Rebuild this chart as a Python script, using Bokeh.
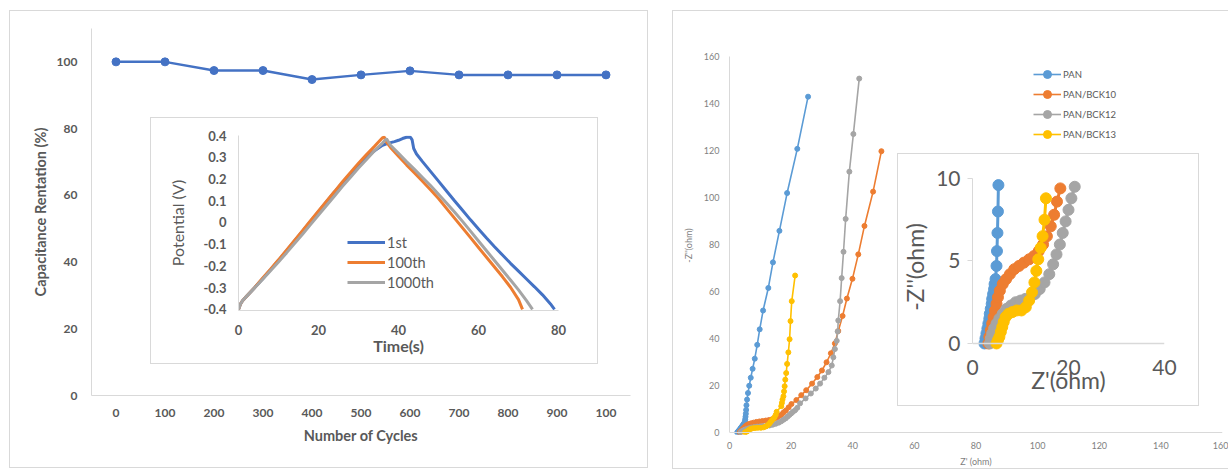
from bokeh.plotting import figure
from bokeh.layouts import row, column
from bokeh.models import Range1d, FixedTicker, Span, Legend, LegendItem
from bokeh.embed import file_html
from bokeh.resources import INLINE

FONT = "Lato"
TXT = "#595959"
TXT2 = "#7f7f7f"
AX = "#d9d9d9"

# ---------------- data: capacitance retention ----------------
cycles = [0, 100, 200, 300, 400, 500, 600, 700, 800, 900, 1000]
cycle_labels = ["0", "100", "200", "300", "400", "500", "600", "700", "800", "900", "100"]
retention = [100, 100, 97.4, 97.4, 94.7, 96.1, 97.3, 96.1, 96.1, 96.1, 96.1]
retention_ticks = [0, 20, 40, 60, 80, 100]

# ---------------- data: GCD inset ----------------
t_1st = [0, 0.5, 1, 2, 4, 6, 8, 10, 12, 14, 16, 18, 20, 22, 24, 26, 28, 30, 32, 34, 36, 37, 38, 39, 40, 41, 42, 43,
         43.4, 43.8, 44.5, 46, 48, 50, 52, 54, 56, 58, 60, 62, 64, 66, 68, 70, 72, 74, 76, 78, 79]
v_1st = [-0.4, -0.375, -0.36, -0.34, -0.3, -0.26, -0.218, -0.175, -0.13, -0.085, -0.04, 0.005, 0.05, 0.095, 0.14,
         0.183, 0.225, 0.265, 0.3, 0.33, 0.355, 0.362, 0.367, 0.372, 0.378, 0.386, 0.392, 0.392, 0.38, 0.34, 0.315,
         0.28, 0.235, 0.19, 0.145, 0.1, 0.056, 0.012, -0.03, -0.072, -0.112, -0.15, -0.188, -0.224, -0.26,
         -0.296, -0.333, -0.375, -0.4]
t_100 = [0, 0.5, 1, 2, 4, 6, 8, 10, 12, 14, 16, 18, 20, 22, 24, 26, 28, 30, 32, 34, 35, 36, 36.5, 37, 38, 40, 42,
         44, 46, 48, 50, 52, 54, 56, 58, 60, 62, 64, 66, 68, 70, 71]
v_100 = [-0.4, -0.375, -0.36, -0.34, -0.3, -0.257, -0.215, -0.172, -0.128, -0.083, -0.038, 0.008, 0.053, 0.098,
         0.142, 0.187, 0.23, 0.272, 0.312, 0.35, 0.37, 0.39, 0.392, 0.37, 0.345, 0.305, 0.265, 0.228, 0.19,
         0.15, 0.11, 0.065, 0.02, -0.025, -0.07, -0.115, -0.16, -0.205, -0.25, -0.298, -0.355, -0.4]
t_1000 = [0, 0.5, 1, 2, 4, 6, 8, 10, 12, 14, 16, 18, 20, 22, 24, 26, 28, 30, 32, 34, 36, 37, 37.5, 38, 40, 42, 44,
          46, 48, 50, 52, 54, 56, 58, 60, 62, 64, 66, 68, 70, 72, 73.5]
v_1000 = [-0.4, -0.375, -0.36, -0.34, -0.302, -0.262, -0.222, -0.182, -0.14, -0.097, -0.054, -0.01, 0.034, 0.078,
          0.122, 0.166, 0.208, 0.25, 0.29, 0.33, 0.365, 0.385, 0.37, 0.355, 0.318, 0.28, 0.244, 0.207, 0.17, 0.13,
          0.09, 0.048, 0.005, -0.04, -0.085, -0.13, -0.175, -0.22, -0.265, -0.31, -0.36, -0.4]
gcd_names = ["1st", "100th", "1000th"]
time_ticks = [0, 20, 40, 60, 80]
volt_ticks = [-0.4, -0.3, -0.2, -0.1, 0.0, 0.1, 0.2, 0.3, 0.4]
volt_labels = ["-0.4", "-0.3", "-0.2", "-0.1", "0", "0.1", "0.2", "0.3", "0.4"]

# ---------------- data: Nyquist ----------------
pan_x = [2.5, 2.7, 2.9, 3.1, 3.3, 3.5, 3.6, 3.8, 4.0, 4.1, 4.3, 4.5, 4.6, 4.8, 5.0, 5.1, 5.2, 5.3, 5.4, 5.5, 5.7,
         6.0, 6.4, 6.9, 7.5, 8.2, 9.0, 9.8, 10.9, 12.6, 14.1, 16.2, 18.7, 22.0, 25.5]
pan_y = [0.0, 0.3, 0.6, 0.9, 1.2, 1.5, 1.8, 2.1, 2.4, 2.7, 3.0, 3.3, 3.6, 3.9, 4.7, 5.6, 6.7, 8.0, 9.6, 11.6, 14.0,
         16.8, 19.9, 23.3, 27.1, 31.4, 37.3, 43.9, 51.9, 61.5, 72.4, 85.8, 101.9, 120.7, 142.9]
bck10_x = [3.3, 3.5, 3.8, 4.1, 4.4, 4.7, 5.0, 5.3, 5.7, 6.3, 7.0, 7.8, 8.7, 9.7, 10.7, 11.8, 12.8, 13.8, 14.7, 15.5,
           16.3, 17.0, 17.6, 18.3, 19.2, 20.1, 21.7, 23.3, 24.9, 26.8, 28.5, 30.0, 31.5, 32.9, 34.2, 35.3, 36.7,
           38.1, 39.9, 41.8, 43.8, 46.6, 49.3]
bck10_y = [0.0, 0.4, 0.8, 1.2, 1.6, 2.0, 2.4, 2.8, 3.2, 3.6, 3.9, 4.2, 4.5, 4.7, 4.9, 5.1, 5.3, 5.6, 6.0, 6.5, 7.1,
           7.8, 8.6, 9.4, 10.7, 12.1, 13.8, 15.9, 18.0, 20.8, 23.6, 26.4, 29.9, 33.7, 37.9, 43.2, 49.6, 57.0, 65.4,
           75.8, 87.9, 102.5, 119.7]
bck12_x = [3.6, 3.8, 4.1, 4.5, 5.0, 5.6, 6.3, 7.1, 8.0, 9.0, 10.0, 11.0, 12.0, 13.0, 14.0, 15.0, 16.0, 16.8, 17.5,
           18.2, 18.8, 19.4, 20.0, 20.6, 21.3, 22.0, 22.9, 24.7, 26.4, 28.0, 29.4, 30.8, 32.1, 33.2, 33.7, 34.2,
           34.8, 35.1, 35.3, 35.9, 36.4, 37.0, 37.7, 38.9, 40.2, 42.1]
bck12_y = [0.0, 0.3, 0.6, 0.9, 1.2, 1.5, 1.8, 2.1, 2.3, 2.5, 2.6, 2.7, 2.8, 3.0, 3.3, 3.7, 4.2, 4.8, 5.4, 6.0, 6.7,
           7.4, 8.1, 8.8, 9.5, 10.5, 12.4, 14.5, 16.6, 18.7, 20.8, 23.3, 25.7, 28.5, 32.0, 35.5, 39.0, 43.0, 47.7,
           55.9, 65.7, 76.9, 90.9, 111.0, 127.0, 150.6]
bck13_x = [5.0, 5.3, 5.6, 5.9, 6.2, 6.5, 6.9, 7.5, 8.3, 9.2, 10.2, 11.1, 11.8, 12.4, 12.9, 13.3, 13.7, 14.2, 14.6,
           15.0, 15.3, 16.8, 17.0, 17.2, 17.5, 17.7, 17.9, 18.1, 18.4, 18.7, 19.1, 19.5, 19.8, 20.2, 21.3]
bck13_y = [0.0, 0.2, 0.4, 0.7, 1.0, 1.3, 1.6, 1.8, 1.9, 2.0, 2.0, 2.2, 2.6, 3.1, 3.7, 4.4, 5.1, 5.8, 6.5, 7.5, 8.8,
           11.2, 12.6, 14.0, 15.4, 17.5, 19.7, 22.5, 25.3, 29.2, 34.1, 39.7, 47.4, 55.9, 66.8]
eis_names = ["PAN", "PAN/BCK10", "PAN/BCK12", "PAN/BCK13"]
eis_ticks = [0, 20, 40, 60, 80, 100, 120, 140, 160]
inset_x_ticks = [0, 20, 40]
inset_y_ticks = [0, 5, 10]
inset_y_max = 10

GCD_COLORS = ["#4472C4", "#ED7D31", "#A5A5A5"]
EIS_COLORS = ["#5B9BD5", "#ED7D31", "#A5A5A5", "#FFC000"]


def style_axes(p, font_size, color, bold, title_size, title_style):
    for ax in p.axis:
        ax.axis_line_color = AX
        ax.major_tick_line_color = None
        ax.minor_tick_line_color = None
        ax.major_tick_out = 0
        ax.major_tick_in = 0
        ax.major_label_text_font = FONT
        ax.major_label_text_font_size = font_size
        ax.major_label_text_color = color
        ax.major_label_text_font_style = "bold" if bold else "normal"
        ax.axis_label_text_font = FONT
        ax.axis_label_text_font_size = title_size
        ax.axis_label_text_color = color
        ax.axis_label_text_font_style = title_style
    p.grid.visible = False


def base_fig(w, h, xr, yr, borders, margin, shadow):
    l, r, t, b = borders
    return figure(width=w, height=h, x_range=xr, y_range=yr, output_backend="svg",
                  toolbar_location=None, min_border_left=l, min_border_right=r,
                  min_border_top=t, min_border_bottom=b, background_fill_alpha=0,
                  border_fill_alpha=0, outline_line_color=None, margin=margin,
                  frame_align=False, styles={"box-shadow": shadow})


# ================= left main =================
pL = base_fig(639, 458, Range1d(-50, 1050), Range1d(0, 110), (82, 18, 18, 73), (10, 0, 1, 9),
              "inset 0 0 0 1px #d9d9d9")
pL.line(cycles, retention, line_width=2.5, color="#4472C4")
pL.scatter(cycles, retention, size=8, color="#4472C4")
style_axes(pL, "12px", TXT, True, "14.5px", "bold")
pL.xaxis.ticker = FixedTicker(ticks=cycles)
pL.xaxis.major_label_overrides = {c: lab for c, lab in zip(cycles, cycle_labels)}
pL.yaxis.ticker = FixedTicker(ticks=retention_ticks)
pL.xaxis.axis_label = "Number of Cycles"
pL.yaxis.axis_label = "Capacitance Rentation (%)"
pL.xaxis.major_label_standoff = 13
pL.xaxis.axis_label_standoff = 7
pL.yaxis.major_label_standoff = 14
pL.yaxis.axis_label_standoff = 5

# ================= left inset =================
pI = base_fig(448, 247, Range1d(0, 80), Range1d(-0.405, 0.4), (88, 40, 18, 54), (-352, 0, 105, 150),
              "inset 0 0 0 1px #d9d9d9")
gcd_r = []
for tt, vv, c in zip([t_1st, t_100, t_1000], [v_1st, v_100, v_1000], GCD_COLORS):
    gcd_r.append(pI.line(tt, vv, line_width=3, color=c))
style_axes(pI, "13px", TXT, True, "16px", "normal")
pI.xaxis.ticker = FixedTicker(ticks=time_ticks)
pI.yaxis.ticker = FixedTicker(ticks=volt_ticks)
pI.yaxis.major_label_overrides = {v: lab for v, lab in zip(volt_ticks, volt_labels)}
pI.xaxis.axis_label = "Time(s)"
pI.xaxis.axis_label_text_font_style = "bold"
pI.xaxis.axis_label_text_font_size = "16px"
pI.yaxis.axis_label = "Potential (V)"
pI.xaxis.major_label_standoff = 14
pI.xaxis.axis_label_standoff = -2
pI.yaxis.major_label_standoff = 12
pI.yaxis.axis_label_standoff = 13
legI = Legend(items=[LegendItem(label=n, renderers=[r]) for n, r in zip(gcd_names, gcd_r)],
              location=(109, 18), background_fill_alpha=0, border_line_color=None,
              label_text_font=FONT, label_text_font_size="14.5px", label_text_color=TXT,
              glyph_width=38, glyph_height=20, label_height=20, spacing=0, padding=0, margin=0,
              label_standoff=2)
pI.add_layout(legI)

# ================= right main =================
pR = base_fig(556, 459, Range1d(0, 160), Range1d(-0.85, 160), (57, 6, 46, 32), (10, 0, 0, 24),
              "inset 1px 1px 0 0 #d9d9d9, inset 0 -1px 0 0 #d9d9d9")
eis_r = []
for xs, ys, c in zip([pan_x, bck10_x, bck12_x, bck13_x], [pan_y, bck10_y, bck12_y, bck13_y], EIS_COLORS):
    ln = pR.line(xs, ys, line_width=1.6, color=c)
    sc = pR.scatter(xs, ys, size=5, color=c)
    eis_r.append([ln, sc])
style_axes(pR, "9px", TXT2, False, "9px", "normal")
pR.xaxis.ticker = FixedTicker(ticks=eis_ticks)
pR.yaxis.ticker = FixedTicker(ticks=eis_ticks)
pR.yaxis.bounds = (0, 160)
pR.xaxis.axis_line_color = None
pR.add_layout(Span(location=0, dimension="width", line_color=AX, line_width=1))
pR.xaxis.axis_label = "Z' (ohm)"
pR.yaxis.axis_label = "-Z''(ohm)"
pR.xaxis.major_label_standoff = 7
pR.xaxis.axis_label_standoff = 4
pR.yaxis.major_label_standoff = 10
pR.yaxis.axis_label_standoff = 7
legR = Legend(items=[LegendItem(label=n, renderers=r) for n, r in zip(eis_names, eis_r)],
              location=(304, 290), background_fill_alpha=0, border_line_color=None,
              label_text_font=FONT, label_text_font_size="9.5px", label_text_color=TXT,
              glyph_width=28, glyph_height=20, label_height=20, spacing=0, padding=0, margin=0,
              label_standoff=2)
pR.add_layout(legR)

# ================= right inset (low-impedance region of the same data) =================
pRI = base_fig(302, 253, Range1d(0, 40), Range1d(-0.73, inset_y_max), (75, 35, 25, 51), (-316, 0, 63, 249),
               "inset 0 0 0 1px #d9d9d9")
for xs, ys, c in zip([pan_x, bck10_x, bck12_x, bck13_x], [pan_y, bck10_y, bck12_y, bck13_y], EIS_COLORS):
    keep = [i for i, y in enumerate(ys) if y <= inset_y_max]
    sx = [xs[i] for i in keep]
    sy = [ys[i] for i in keep]
    pRI.line(sx, sy, line_width=3, color=c)
    pRI.scatter(sx, sy, size=11, color=c)
style_axes(pRI, "21px", TXT, False, "23px", "normal")
pRI.xaxis.ticker = FixedTicker(ticks=inset_x_ticks)
pRI.yaxis.ticker = FixedTicker(ticks=inset_y_ticks)
pRI.yaxis.bounds = (0, 10)
pRI.yaxis.major_tick_line_color = AX
pRI.yaxis.major_tick_out = 5
pRI.xaxis.axis_line_color = None
pRI.add_layout(Span(location=0, dimension="width", line_color=AX, line_width=1.5))
pRI.xaxis.axis_label = "Z'(ohm)"
pRI.yaxis.axis_label = "-Z''(ohm)"
pRI.xaxis.major_label_standoff = 4
pRI.xaxis.axis_label_standoff = -12
pRI.yaxis.major_label_standoff = 7
pRI.yaxis.axis_label_standoff = 4

layout = row(column(pL, pI), column(pR, pRI))
open("out.html", "w").write(file_html(layout, INLINE))
